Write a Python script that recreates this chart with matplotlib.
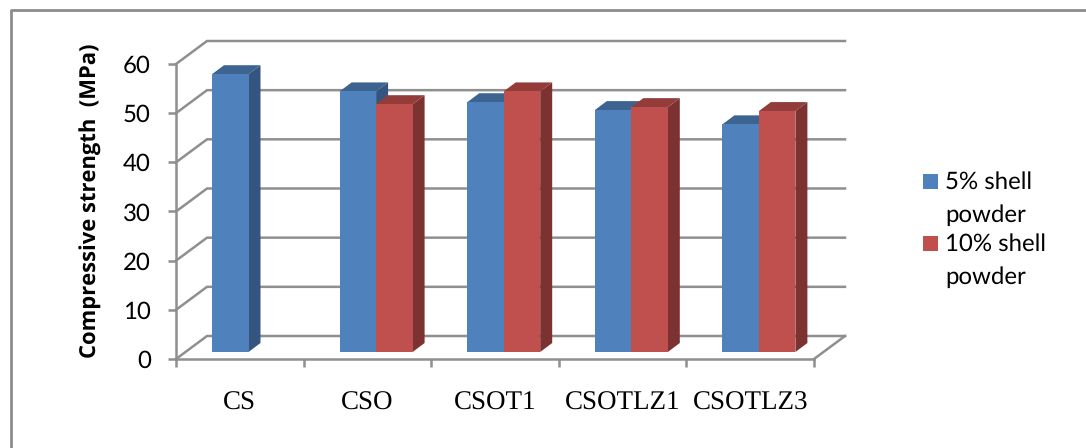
import matplotlib
matplotlib.use('Agg')
import matplotlib.pyplot as plt
from matplotlib.patches import Polygon, Rectangle

plt.rcParams['text.hinting'] = 'no_hinting'
plt.rcParams['text.hinting_factor'] = 1

categories = ['CS', 'CSO', 'CSOT1', 'CSOTLZ1', 'CSOTLZ3']
shell_5 = [56.5, 53.0, 50.8, 49.2, 46.3]
shell_10 = [None, 50.4, 53.0, 49.8, 49.0]
yticks = [0, 10, 20, 30, 40, 50, 60]

W, H = 1086, 448
BLUE, BLUE_TOP, BLUE_SIDE = '#4f81bd', '#3d6491', '#34557f'
RED, RED_TOP, RED_SIDE = '#c0504d', '#933c39', '#7b3230'
GRID = '#8f8f8f'

fig = plt.figure(figsize=(W / 100, H / 100), dpi=100)
fig.patch.set_facecolor('white')

# axes box is the front plane of the fake 3d chart
ax = fig.add_axes([176 / W, 1 - 359 / H, (814 - 176) / W, (359 - 64) / H])
ax.set_xlim(0, 5)
ax.set_ylim(0, 60)
ax.patch.set_visible(False)
for s in ['top', 'right']:
    ax.spines[s].set_visible(False)
for s in ['left', 'bottom']:
    ax.spines[s].set_color(GRID)
    ax.spines[s].set_linewidth(1.8)

# pixel sizes of the oblique offset, in data units
px_x = 5 / (814 - 176)
px_y = 60 / (359 - 64)
wall_dx, wall_dy = 31 * px_x, 23 * px_y
bar_dx, bar_dy = 12 * px_x, 9 * px_y
bar_w = 36.5 * px_x
bar_x0 = 36 * px_x
bar_y0 = 7 * px_y

# floor and walls
for v in yticks:
    ax.plot([0, wall_dx, 5 + wall_dx], [v, v + wall_dy, v + wall_dy],
            color=GRID, lw=1.8, clip_on=False, zorder=1, solid_joinstyle='miter')
ax.plot([5, 5 + wall_dx], [0, wall_dy], color=GRID, lw=1.8, clip_on=False, zorder=1)


def draw_bar(x, v, front, top, side, z):
    y0 = bar_y0
    y1 = bar_y0 + v
    ax.add_patch(Polygon([(x + bar_w, y0), (x + bar_w + bar_dx, y0 + bar_dy),
                          (x + bar_w + bar_dx, y1 + bar_dy), (x + bar_w, y1)],
                         fc=side, ec='none', clip_on=False, zorder=z))
    ax.add_patch(Polygon([(x, y1), (x + bar_dx, y1 + bar_dy),
                          (x + bar_w + bar_dx, y1 + bar_dy), (x + bar_w, y1)],
                         fc=top, ec='none', clip_on=False, zorder=z))
    ax.add_patch(Rectangle((x, y0), bar_w, v, fc=front, ec='none', clip_on=False, zorder=z + 0.1))


for i in range(len(categories)):
    draw_bar(i + bar_x0, shell_5[i], BLUE, BLUE_TOP, BLUE_SIDE, 3 + i)
    if shell_10[i] is not None:
        draw_bar(i + bar_x0 + bar_w, shell_10[i], RED, RED_TOP, RED_SIDE, 3.5 + i)

ax.set_yticks(yticks)
ax.set_xticks(range(6))
ax.set_xticklabels([])
ax.set_xticks([i + 0.5 for i in range(5)], minor=True)
ax.set_xticklabels(categories, minor=True, fontfamily='Liberation Serif', fontsize=19.2)
ax.tick_params(axis='x', which='major', length=6, width=1.8, color=GRID, direction='out')
ax.tick_params(axis='x', which='minor', length=0, pad=23)
ax.tick_params(axis='y', length=6, width=1.8, color=GRID, pad=12, labelsize=17)
for t in ax.get_yticklabels():
    t.set_fontfamily('Lato')

fig.text(91 / W, 1 - 201 / H, 'Compressive strength  (MPa)', rotation=90, ha='center', va='center',
         fontfamily='Open Sans', fontweight='bold', fontsize=16)

# legend
for y, c in [(174, BLUE), (236, RED)]:
    fig.add_artist(Rectangle((923 / W, 1 - (y + 15) / H), 15 / W, 15 / H, fc=c, ec='none',
                             transform=fig.transFigure))
for y, s in [(189, '5% shell'), (222, 'powder'), (251, '10% shell'), (284, 'powder')]:
    fig.text(945 / W, 1 - y / H, s, ha='left', va='baseline', fontfamily='Lato', fontsize=17)

# outer frame, left and top only
fig.add_artist(plt.Line2D([10.5 / W, 10.5 / W, 1], [0, 1 - 10.5 / H, 1 - 10.5 / H], color='#8c8c8c', lw=2,
                          transform=fig.transFigure))

fig.savefig('out.png', dpi=100)
